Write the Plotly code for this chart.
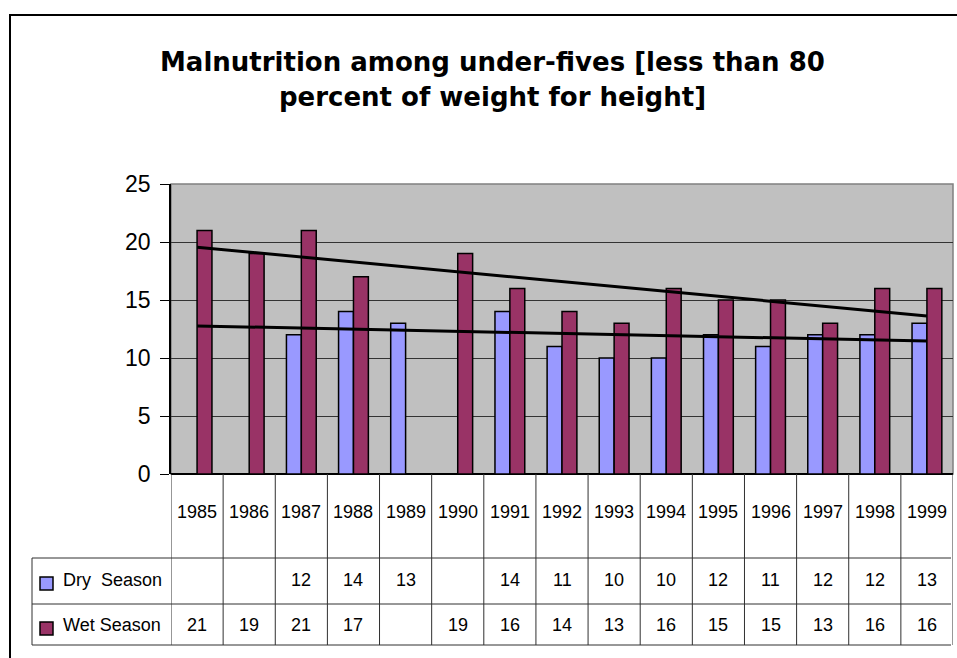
import numpy as np
import plotly.graph_objects as go

# ---- data ----
years = ["1985", "1986", "1987", "1988", "1989", "1990", "1991", "1992",
         "1993", "1994", "1995", "1996", "1997", "1998", "1999"]
dry_season = [None, None, 12, 14, 13, None, 14, 11, 10, 10, 12, 11, 12, 12, 13]
wet_season = [21, 19, 21, 17, None, 19, 16, 14, 13, 16, 15, 15, 13, 16, 16]
series_names = ["Dry\u00a0 Season", "Wet Season"]
title_lines = ["Malnutrition among under-fives [less than 80",
               "percent of weight for height]"]
y_ticks = [0, 5, 10, 15, 20, 25]

DRY_COLOR = "#9999FF"
WET_COLOR = "#993366"
PLOT_BG = "#C0C0C0"

W, H = 957, 658
L, R, T, B = 171, 953, 184, 474  # plot area in pixels

pos = list(range(1, len(years) + 1))


def px_x(p):
    return (p - L) / (R - L)


def px_y(p):
    return (B - p) / (B - T)


def trend(values):
    xs = [i for i, v in zip(pos, values) if v is not None]
    ys = [v for v in values if v is not None]
    k, c = np.polyfit(xs, ys, 1)
    xx = [pos[0], pos[-1]]
    return xx, [k * x + c for x in xx]


fig = go.Figure()
fig.add_trace(go.Bar(x=pos, y=dry_season, name=series_names[0],
                     marker=dict(color=DRY_COLOR, line=dict(color="black", width=1.5))))
fig.add_trace(go.Bar(x=pos, y=wet_season, name=series_names[1],
                     marker=dict(color=WET_COLOR, line=dict(color="black", width=1.5))))

# linear trend lines
for vals in (wet_season, dry_season):
    tx, ty = trend(vals)
    fig.add_trace(go.Scatter(x=tx, y=ty, mode="lines",
                             line=dict(color="black", width=3), showlegend=False))

shapes = []
# outer chart border
shapes.append(dict(type="rect", xref="paper", yref="paper",
                   x0=px_x(10), x1=px_x(962), y0=px_y(15), y1=px_y(665),
                   line=dict(color="black", width=2), fillcolor="rgba(0,0,0,0)", layer="above"))
# plot-area frame (grey)
shapes.append(dict(type="rect", xref="paper", yref="paper", x0=0, x1=1, y0=0, y1=1,
                   line=dict(color="#808080", width=1.5), fillcolor="rgba(0,0,0,0)", layer="below"))

# data table grid
GRID = "#303030"
y_head_top = px_y(B)
y_row1 = px_y(558)
y_row2 = px_y(604)
y_bot = px_y(645)
x_left = px_x(32)
x_right = px_x(951)
for k in range(len(years) + 1):
    shapes.append(dict(type="line", xref="x", yref="paper", x0=k + 0.5, x1=k + 0.5,
                       y0=y_head_top, y1=y_bot, line=dict(color=GRID, width=1)))
for yy in (y_row1, y_row2, y_bot):
    shapes.append(dict(type="line", xref="paper", yref="paper", x0=x_left, x1=x_right,
                       y0=yy, y1=yy, line=dict(color=GRID, width=1)))
shapes.append(dict(type="line", xref="paper", yref="paper", x0=x_left, x1=x_left,
                   y0=y_row1, y1=y_bot, line=dict(color=GRID, width=1)))

# legend keys inside the table
for color, (top, bot) in ((DRY_COLOR, (577, 590)), (WET_COLOR, (622, 635))):
    shapes.append(dict(type="rect", xref="paper", yref="paper",
                       x0=px_x(40), x1=px_x(53), y0=px_y(bot), y1=px_y(top),
                       fillcolor=color, line=dict(color="black", width=1.5)))

TABLE_FONT = dict(family="Liberation Sans, Arial, sans-serif", size=18, color="black")
annotations = []
for i, yr in enumerate(years):
    annotations.append(dict(x=pos[i], y=px_y(512), xref="x", yref="paper", text=yr,
                            showarrow=False, font=TABLE_FONT, xanchor="center", yanchor="middle"))
    for vals, yc in ((dry_season, 580), (wet_season, 625)):
        if vals[i] is not None:
            annotations.append(dict(x=pos[i], y=px_y(yc), xref="x", yref="paper",
                                    text=str(vals[i]), showarrow=False, font=TABLE_FONT,
                                    xanchor="center", yanchor="middle"))
for name, yc in ((series_names[0], 580), (series_names[1], 625)):
    annotations.append(dict(x=px_x(61), y=px_y(yc), xref="paper", yref="paper", text=name,
                            showarrow=False, font=TABLE_FONT, xanchor="left", yanchor="middle"))

# chart title, one annotation per line
for line, yc in zip(title_lines, (62, 97)):
    annotations.append(dict(x=px_x(492), y=px_y(yc), xref="paper", yref="paper",
                            text="<b>" + line + "</b>", showarrow=False,
                            xanchor="center", yanchor="middle",
                            font=dict(family="DejaVu Sans, sans-serif", size=26, color="black")))

fig.update_layout(
    width=W, height=H,
    margin=dict(l=L, r=W - R, t=T, b=H - B, pad=0),
    paper_bgcolor="white", plot_bgcolor=PLOT_BG,
    barmode="group", bargap=0.4286, bargroupgap=0,
    showlegend=False,
    shapes=shapes, annotations=annotations,
    font=dict(family="Liberation Sans, Arial, sans-serif", color="black"),
)
fig.update_xaxes(range=[0.5, len(years) + 0.5], showticklabels=False, showgrid=False,
                 zeroline=False, showline=False, ticks="")
fig.update_yaxes(range=[0, 25], tickvals=y_ticks, showgrid=True, gridcolor="#333333",
                 gridwidth=1, zeroline=True, zerolinecolor="black", zerolinewidth=1.5,
                 showline=True, linecolor="black", linewidth=1.5,
                 ticks="outside", ticklen=9, tickcolor="black", ticklabelstandoff=5,
                 tickfont=dict(size=23, family="Liberation Sans, Arial, sans-serif"))

fig.write_html("out.html")
